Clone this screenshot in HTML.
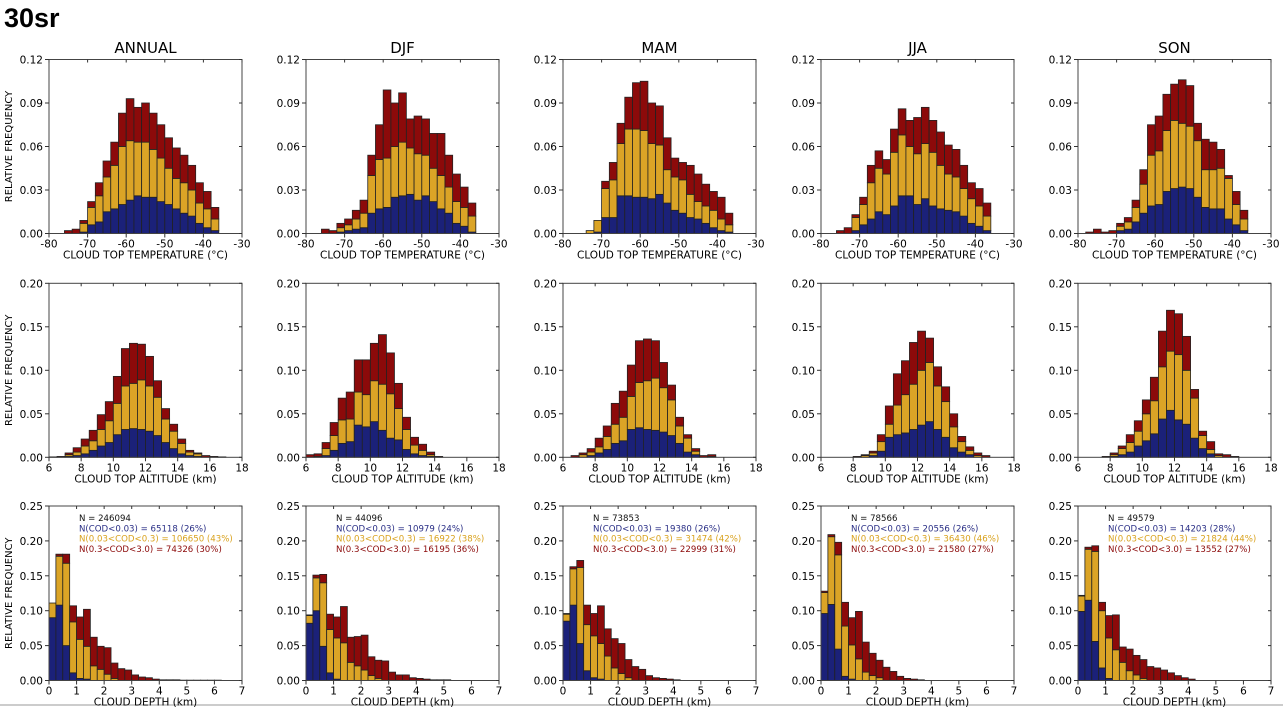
<!DOCTYPE html>
<html><head><meta charset="utf-8"><style>
html,body{margin:0;padding:0;background:#fff;}
svg{display:block;font-family:"DejaVu Sans","Liberation Sans",sans-serif;}
</style></head><body>
<svg id="fig" width="1283" height="708" viewBox="0 0 1283 708" xmlns="http://www.w3.org/2000/svg">
<text x="4" y="27" font-size="27" font-weight="bold" font-family="Liberation Sans, sans-serif">30sr</text>
<line x1="0" y1="705" x2="1283" y2="705" stroke="#999" stroke-width="1"/>
</svg>
<script>
// ---- data ----
const seasons = ["ANNUAL","DJF","MAM","JJA","SON"];
const tempStart = [-76,-76,-74,-76,-78];
const tempTotal = [
[.002,.003,.009,.022,.035,.050,.063,.083,.093,.087,.090,.083,.075,.066,.059,.054,.047,.035,.029,.018],
[.003,.002,.007,.010,.016,.023,.054,.075,.099,.090,.097,.079,.081,.079,.069,.069,.054,.041,.032,.021],
[.002,.009,.036,.049,.076,.094,.104,.105,.090,.088,.066,.052,.049,.047,.041,.034,.029,.025,.014],
[.002,.004,.013,.025,.047,.057,.051,.072,.086,.078,.080,.087,.078,.070,.061,.058,.047,.035,.031,.021],
[.001,.003,.001,.002,.007,.011,.023,.044,.075,.081,.096,.103,.106,.102,.076,.065,.063,.058,.040,.029,.016]];
const tempMid = [
[0,0,.007,.018,.026,.039,.047,.060,.064,.063,.063,.058,.052,.045,.038,.035,.030,.021,.017,.010],
[0,0,.004,.006,.010,.014,.040,.051,.052,.060,.063,.059,.055,.054,.045,.040,.032,.022,.018,.012],
[.002,.009,.031,.037,.062,.072,.072,.071,.062,.061,.044,.039,.037,.027,.022,.019,.016,.010,.006],
[0,0,.011,.020,.035,.045,.041,.056,.068,.060,.055,.062,.056,.047,.041,.039,.031,.024,.019,.012],
[0,0,0,0,.005,.008,.018,.034,.054,.057,.071,.078,.076,.074,.064,.044,.044,.045,.038,.020,.010]];
const tempLow = [
[0,0,.001,.006,.008,.015,.017,.020,.023,.026,.025,.025,.022,.020,.017,.014,.012,.007,.004,.002],
[0,0,.001,.002,.003,.004,.014,.017,.018,.025,.026,.027,.023,.026,.022,.017,.014,.007,.005,.001],
[0,.001,.011,.011,.026,.026,.025,.025,.024,.027,.021,.016,.014,.011,.010,.007,.004,.002,.001],
[0,0,.002,.006,.010,.015,.013,.019,.026,.026,.020,.024,.019,.017,.016,.015,.012,.007,.005,.002],
[0,0,0,0,.002,.003,.008,.014,.019,.020,.029,.031,.032,.031,.025,.018,.017,.017,.010,.006,.002]];
const altStart = [6.0,6.0,6.5,8.0,7.5];
const altTotal = [
[.0005,.001,.005,.011,.021,.031,.049,.064,.093,.125,.131,.130,.116,.088,.056,.038,.021,.008,.005,.002,.001,.0005],
[.003,.004,.017,.040,.068,.075,.112,.112,.131,.141,.120,.085,.046,.023,.015,.006,.001],
[.002,.005,.010,.022,.036,.062,.076,.106,.134,.136,.134,.109,.083,.046,.026,.010,.002,.003],
[.001,.003,.007,.026,.059,.096,.111,.132,.145,.137,.104,.081,.050,.024,.012,.005,.002],
[.001,.005,.013,.026,.042,.066,.092,.145,.169,.165,.139,.078,.030,.018,.004,.003,.001]];
const altMid = [
[0,0,.003,.006,.013,.019,.032,.042,.062,.082,.085,.089,.082,.069,.044,.030,.016,.006,.004],
[0,.001,.010,.025,.043,.044,.075,.072,.088,.084,.073,.056,.032,.014,.008,.003],
[0,.003,.006,.012,.024,.038,.046,.070,.086,.088,.091,.080,.066,.036,.022,.007,0,.001],
[0,.002,.005,.018,.038,.060,.072,.084,.100,.109,.082,.064,.035,.018,.008,.002],
[0,.003,.010,.017,.030,.050,.065,.104,.122,.118,.100,.068,.025,.009,.002]];
const altLow = [
[0,0,.001,.002,.004,.008,.013,.017,.026,.032,.033,.032,.030,.025,.017,.010,.004,.002,.001],
[0,0,.002,.008,.016,.018,.037,.035,.041,.031,.022,.020,.009,.004,.002,.001],
[0,0,.002,.005,.009,.016,.019,.032,.034,.032,.031,.029,.025,.016,.006,.003],
[0,0,.002,.007,.023,.026,.028,.032,.037,.041,.032,.023,.011,.006,.003],
[0,.001,.003,.006,.013,.019,.027,.044,.054,.043,.038,.022,.010,.004]];
const depthTotal = [
[.111,.181,.181,.107,.091,.102,.062,.049,.047,.025,.017,.015,.008,.005,.004,.002,.001,.001,.001,.0005,.0005,.0005,.0005,.0005,.0005],
[.094,.151,.152,.095,.091,.106,.062,.063,.065,.034,.029,.028,.012,.008,.008,.004,.003,.002,.001,.001,.001],
[.096,.163,.172,.108,.096,.107,.074,.060,.053,.030,.020,.016,.007,.004,.003,.002,.001],
[.128,.209,.198,.112,.090,.099,.055,.039,.029,.019,.013,.006,.003,.002,.001],
[.122,.191,.193,.112,.093,.094,.048,.045,.036,.030,.020,.018,.015,.011,.007,.004,.002]];
const depthMid = [
[.111,.178,.168,.084,.059,.049,.021,.016,.009,.003],
[.093,.147,.140,.073,.061,.054,.026,.021,.015,.007,.003],
[.095,.160,.162,.080,.064,.053,.035,.018,.010,.004],
[.126,.206,.180,.078,.051,.031,.012,.007,.004],
[.121,.188,.185,.100,.061,.044,.026,.014,.008,.003]];
const depthLow = [
[.090,.108,.050,.011,.003,.002],
[.082,.100,.049,.011,.002],
[.085,.108,.053,.014,.004,.002],
[.096,.109,.045,.006,.002],
[.099,.115,.056,.018,.003]];
const annN = ["N = 246094","N = 44096","N = 73853","N = 78566","N = 49579"];
const annThin = ["N(COD<0.03) = 65118 (26%)","N(COD<0.03) = 10979 (24%)","N(COD<0.03) = 19380 (26%)","N(COD<0.03) = 20556 (26%)","N(COD<0.03) = 14203 (28%)"];
const annMidTxt = ["N(0.03<COD<0.3) = 106650 (43%)","N(0.03<COD<0.3) = 16922 (38%)","N(0.03<COD<0.3) = 31474 (42%)","N(0.03<COD<0.3) = 36430 (46%)","N(0.03<COD<0.3) = 21824 (44%)"];
const annThick = ["N(0.3<COD<3.0) = 74326 (30%)","N(0.3<COD<3.0) = 16195 (36%)","N(0.3<COD<3.0) = 22999 (31%)","N(0.3<COD<3.0) = 21580 (27%)","N(0.3<COD<3.0) = 13552 (27%)"];
const tempTicks = [-80,-70,-60,-50,-40,-30];
const altTicks = [6,8,10,12,14,16,18];
const depthTicks = [0,1,2,3,4,5,6,7];
const tempYTicks = ["0.00","0.03","0.06","0.09","0.12"];
const altYTicks = ["0.00","0.05","0.10","0.15","0.20"];
const depthYTicks = ["0.00","0.05","0.10","0.15","0.20","0.25"];

// ---- layout ----
const NS="http://www.w3.org/2000/svg";
const svg=document.getElementById('fig');
const colLeft=[49,306,563,821,1078], W=193;
const rows=[
 {top:59.5,bot:233.5,xmin:-80,xmax:-30,ymax:0.12,bw:2,xt:tempTicks,yt:tempYTicks,lab:"CLOUD TOP TEMPERATURE (°C)",start:tempStart,T:tempTotal,M:tempMid,L:tempLow,nm:"temp"},
 {top:283.3,bot:457.3,xmin:6,xmax:18,ymax:0.20,bw:0.5,xt:altTicks,yt:altYTicks,lab:"CLOUD TOP ALTITUDE (km)",start:altStart,T:altTotal,M:altMid,L:altLow,nm:"alt"},
 {top:506,bot:680.5,xmin:0,xmax:7,ymax:0.25,bw:0.25,xt:depthTicks,yt:depthYTicks,lab:"CLOUD DEPTH (km)",start:[0,0,0,0,0],T:depthTotal,M:depthMid,L:depthLow,nm:"depth"}];
function mk(tag,attrs,parent){const e=document.createElementNS(NS,tag);for(const k in attrs)e.setAttribute(k,attrs[k]);(parent||svg).appendChild(e);return e;}
const COL={low:"#1b2179",mid:"#dba426",top:"#8c0a0a"};

rows.forEach((r,ri)=>{
 seasons.forEach((s,ci)=>{
  const x0=colLeft[ci], x1=x0+W;
  const xs=v=>x0+(v-r.xmin)/(r.xmax-r.xmin)*W;
  const ys=v=>r.bot-v/r.ymax*(r.bot-r.top);
  const g=mk('g',{});
  
  
  if(ri===0){
   const t=mk('text',{x:(x0+x1)/2,y:53,'font-size':15,'text-anchor':'middle'},g);t.textContent=s;
   
   
  }
  // bars
  const T=r.T[ci],M=r.M[ci],L=r.L[ci];
  T.forEach((tv,i)=>{
   const a=r.start[ci]+i*r.bw, bx=xs(a), bwpx=xs(a+r.bw)-bx;
   const lv=L[i]||0, mv=Math.max(M[i]||0,lv);
   const segs=[[0,lv,COL.low,'thin'],[lv,mv,COL.mid,'mid'],[mv,tv,COL.top,'thick']];
   segs.forEach(sg=>{
    if(sg[1]-sg[0]<=0)return;
    const rc=mk('rect',{x:bx,y:ys(sg[1]),width:bwpx,height:ys(sg[0])-ys(sg[1]),fill:sg[2],stroke:'#222','stroke-width':0.8},g);
    
    
   });
  });
  // frame
  const fr=mk('rect',{x:x0,y:r.top,width:W,height:r.bot-r.top,fill:'none',stroke:'#444','stroke-width':1},g);
  
  
  // x ticks
  r.xt.forEach(v=>{
   const x=xs(v);
   mk('line',{x1:x,y1:r.bot,x2:x,y2:r.bot+4,stroke:'#333'},g);
   mk('line',{x1:x,y1:r.top,x2:x,y2:r.top+3,stroke:'#333'},g);
   const t=mk('text',{x:x,y:r.bot+14,'font-size':10.5,'text-anchor':'middle'},g);t.textContent=v;
   
   
  });
  r.yt.forEach((lab,i)=>{
   const y=r.bot-i/(r.yt.length-1)*(r.bot-r.top);
   mk('line',{x1:x0-4,y1:y,x2:x0,y2:y,stroke:'#333'},g);
   mk('line',{x1:x1-3,y1:y,x2:x1,y2:y,stroke:'#333'},g);
   const t=mk('text',{x:x0-6,y:y+4,'font-size':10.5,'text-anchor':'end'},g);t.textContent=lab;
   
   
  });
  const xl=mk('text',{x:(x0+x1)/2,y:r.bot+25,'font-size':10.5,'text-anchor':'middle'},g);xl.textContent=r.lab;
  
  
  if(ci===0){
   const cy=(r.top+r.bot)/2;
   const yl=mk('text',{x:12,y:cy,'font-size':10,'text-anchor':'middle',transform:'rotate(-90 12 '+cy+')'},g);yl.textContent="RELATIVE FREQUENCY";
   
   
  }
  if(ri===2){
   const lines=[[annN[ci],'#111'],[annThin[ci],'#2a2f86'],[annMidTxt[ci],'#d9a21e'],[annThick[ci],'#8c0a0a']];
   lines.forEach((ln,k)=>{
    const t=mk('text',{x:x0+30,y:r.top+15+k*10.3,'font-size':8.6,fill:ln[1]},g);t.textContent=ln[0];
    
    
   });
  }
 });
});
</script>
</body></html>
